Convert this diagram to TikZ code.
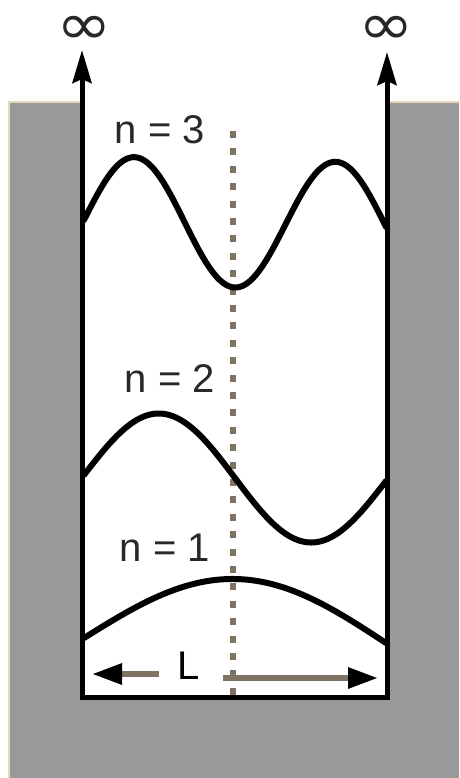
\documentclass[tikz,border=0pt]{standalone}
\usepackage{fontspec}
\setmainfont{Liberation Sans}
\newfontfamily\symfont{DejaVu Sans}
\usetikzlibrary{arrows.meta}
\definecolor{wellgray}{HTML}{999999}
\definecolor{dotbrown}{HTML}{7F7463}
\definecolor{edgebeige}{HTML}{E6D8BC}
\definecolor{txtdark}{HTML}{2A2824}
\begin{document}
\begin{tikzpicture}[x=1pt,y=-1pt,
  lbl/.style={inner sep=0pt, text=txtdark, font=\fontsize{40}{40}\selectfont},
  inflbl/.style={inner sep=0pt, text=txtdark, font=\symfont\fontsize{58}{58}\selectfont},
  wave/.style={line width=6pt, line join=round, line cap=round},
  wall/.style={line width=5pt, -{Stealth[length=33pt,width=19pt,inset=4pt]}},
  larrow/.style={dotbrown, line width=6pt, -{Triangle[length=30pt,width=20pt,color=black]}}]
\useasboundingbox (0,0) rectangle (459,778);
\fill[white] (0,0) rectangle (459,778);
% surrounding material
\fill[wellgray] (9,102) rectangle (459,778);
\draw[edgebeige, line width=2pt] (9,778) -- (9,102) -- (80,102);
\draw[edgebeige, line width=2pt] (389,102) -- (459,102);
\fill[white] (80,0) rectangle (389,697);
% centre line
\coordinate (ctop) at (233,131);
\coordinate (cbot) at (233,697);
\draw[dotbrown, line width=6.5pt, dash pattern=on 7pt off 10.4pt] (ctop) -- (cbot);
% wave functions
\draw[wave] plot[domain=84:386, samples=150]
  (\x, {220 + 7*((\x-84)/302) - 64*sin(540*((\x-84)/302))});
\draw[wave] plot[domain=84:386, samples=150]
  (\x, {475 + 6*((\x-84)/302) - 63*sin(360*((\x-84)/302))});
\draw[wave] plot[domain=84:386, samples=150]
  (\x, {638 + 5*((\x-84)/302) - 61.5*sin(180*((\x-84)/302))});
% walls
\coordinate (lb) at (82,700);
\coordinate (lt) at (82,50);
\coordinate (rb) at (387,700);
\coordinate (rt) at (387,52);
\coordinate (bl) at (79.5,697.5);
\coordinate (br) at (389.5,697.5);
\draw[wall] (lb) -- (lt);
\draw[wall] (rb) -- (rt);
\draw[line width=5.5pt] (bl) -- (br);
% labels
\node[inflbl] (infL) at (84,30) {\scalebox{1.15}[1]{∞}};
\node[inflbl] (infR) at (386,30) {\scalebox{1.15}[1]{∞}};
\node[lbl] (n3) at (160,130) {n = 3};
\node[lbl] (n2) at (170,379) {n = 2};
\node[lbl] (n1) at (165,548) {n = 1};
\node[lbl, text=black] (L) at (189,666) {L};
% length arrows
\coordinate (la1) at (159,674);
\coordinate (la2) at (92,674);
\coordinate (ra1) at (223,678);
\coordinate (ra2) at (378,678);
\draw[larrow] (la1) -- (la2);
\draw[larrow] (ra1) -- (ra2);
\end{tikzpicture}
\end{document}
